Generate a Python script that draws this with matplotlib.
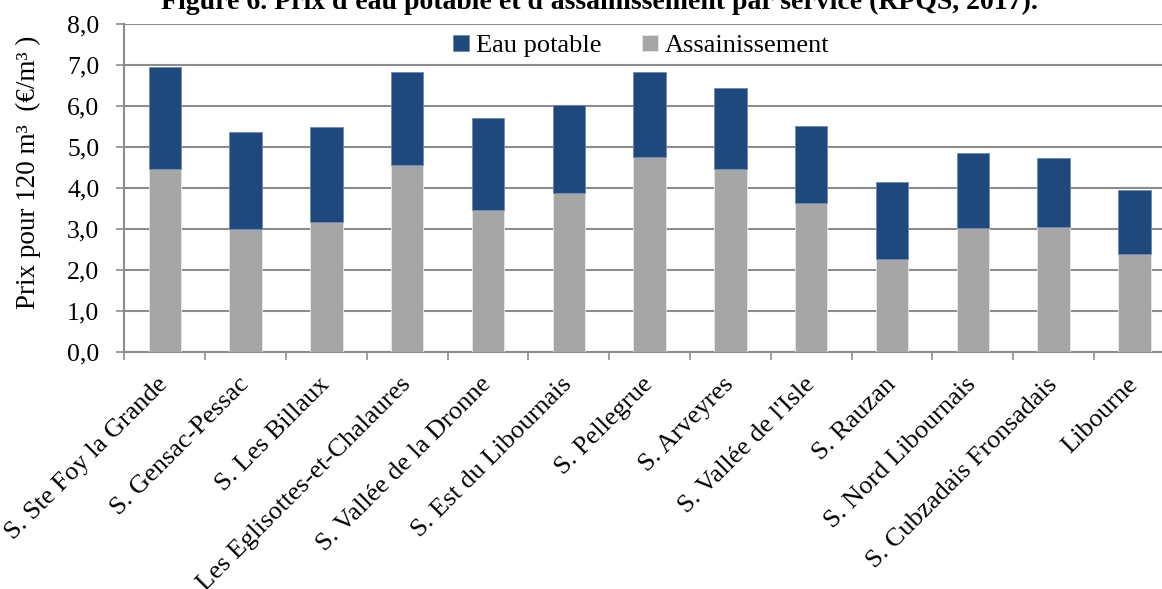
import numpy as np
import matplotlib
matplotlib.use("Agg")
import matplotlib.pyplot as plt

plt.rcParams['font.family'] = ['Liberation Serif', 'DejaVu Serif']

services = ["S. Ste Foy la Grande", "S. Gensac-Pessac", "S. Les Billaux",
            "Les Eglisottes-et-Chalaures", "S. Vallée de la Dronne",
            "S. Est du Libournais", "S. Pellegrue", "S. Arveyres",
            "S. Vallée de l'Isle", "S. Rauzan", "S. Nord Libournais",
            "S. Cubzadais Fronsadais", "Libourne"]
assainissement = [4.46, 3.00, 3.18, 4.55, 3.46, 3.87, 4.75, 4.46, 3.64, 2.28, 3.02, 3.04, 2.39]
eau_potable = [2.49, 2.36, 2.31, 2.29, 2.25, 2.15, 2.08, 1.99, 1.88, 1.87, 1.84, 1.68, 1.57]

blue = '#1f497d'
gray = '#a6a6a6'
grid_col = '#8c8c8c'

fig = plt.figure(figsize=(11.62, 5.89), dpi=100)
ax = fig.add_axes([124.4 / 1162, (589 - 352) / 589, 1050.4 / 1162, 328 / 589])

x = np.arange(len(services))
b1 = ax.bar(x, assainissement, width=0.4, color=gray, edgecolor='#e6e6e6', linewidth=0.6, zorder=3)
b2 = ax.bar(x, eau_potable, width=0.4, bottom=assainissement, color=blue,
            edgecolor='#6f8bb0', linewidth=0.6, zorder=3)

ax.set_xlim(-0.5, len(services) - 0.5)
ax.set_ylim(0, 8)
ax.set_yticks(np.arange(0, 8.1, 1))
ax.set_yticklabels([f"{v:.1f}".replace('.', ',') for v in np.arange(0, 8.1, 1)], fontsize=18.5)
ax.yaxis.grid(True, color=grid_col, linewidth=1.5, zorder=0)
ax.set_axisbelow(True)

ax.set_xticks(x)
ax.set_xticklabels(services, rotation=45, ha='right', va='center',
                   rotation_mode='anchor', fontsize=19)
ax.set_xticks(np.arange(-0.5, len(services), 1), minor=True)
ax.tick_params(axis='x', which='major', length=0, pad=21)
ax.tick_params(axis='x', which='minor', length=6, color=grid_col, width=1.2)
ax.tick_params(axis='y', length=6, color=grid_col, width=1.2, pad=12)

for s in ['top', 'right']:
    ax.spines[s].set_visible(False)
for s in ['left', 'bottom']:
    ax.spines[s].set_color(grid_col)
    ax.spines[s].set_linewidth(1.5)

ax.set_ylabel("Prix pour 120 m³  (€/m³ )", fontsize=19.5)
ax.yaxis.set_label_coords(-0.0795, 0.547)

ax.legend([b2, b1], ["Eau potable", "Assainissement"], loc='upper center',
          bbox_to_anchor=(0.492, 1.04), ncol=2, frameon=False, fontsize=19,
          handlelength=0.6, handleheight=0.6, handletextpad=0.25, columnspacing=1.55)

fig.text(0.516, 1 - 9 / 589, "Figure 6. Prix d'eau potable et d'assainissement par service (RPQS, 2017).",
         ha='center', va='baseline', fontsize=20, fontweight='bold')

fig.savefig("out.png", dpi=100)
